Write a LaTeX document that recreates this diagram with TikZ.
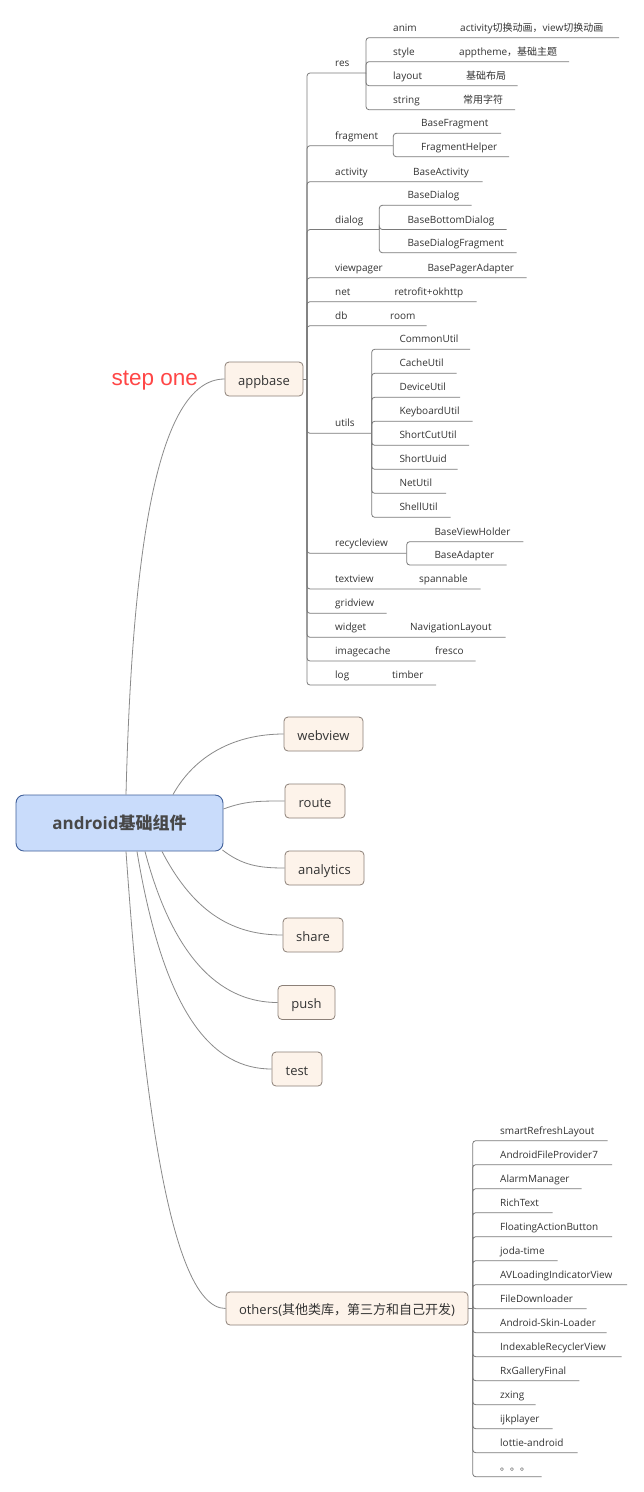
\documentclass[tikz,border=0pt]{standalone}
\usepackage{fontspec}
\setmainfont{Open Sans}
\newfontfamily\cjk{Noto Sans CJK SC}
\newfontfamily\redfont{Liberation Sans}
\definecolor{linegray}{HTML}{7A7A7A}
\definecolor{curvegray}{HTML}{8A8A8A}
\definecolor{txt}{HTML}{333333}
\definecolor{ctxt}{HTML}{484848}
\definecolor{topfill}{HTML}{FDF3EA}
\definecolor{topdraw}{HTML}{8C8078}
\definecolor{cfill}{HTML}{C9DCFB}
\definecolor{cdraw}{HTML}{40609A}
\definecolor{stepred}{HTML}{FF4646}
\begin{document}
\begin{tikzpicture}[x=1pt,y=-1pt,
  tl/.style={draw=linegray, line width=0.8pt},
  rc/.style={rounded corners=3pt},
  cv/.style={draw=curvegray, line width=0.8pt},
  lf/.style={anchor=base west, inner sep=0pt, font=\fontsize{10}{12}\selectfont, text=txt},
  topnode/.style={draw=topdraw, fill=topfill, line width=0.8pt, rounded corners=4pt,
    minimum height=34pt, inner sep=0pt, text=txt, text height=12.5pt, text depth=0pt,
    font=\fontsize{13}{15}\selectfont},
  centernode/.style={draw=cdraw, fill=cfill, line width=0.9pt, rounded corners=8pt,
    minimum width=207pt, minimum height=56pt, inner sep=0pt, text=ctxt,
    font=\fontsize{17}{20}\selectfont\bfseries}
]
\useasboundingbox (0,0) rectangle (643,1492);
\fill[white] (0,0) rectangle (643,1492);

% ---------- main nodes ----------
\node[centernode] (center) at (119.5,823) {android{\cjk\bfseries 基础组件}};
\node[topnode, minimum width=78pt] (appbase) at (264,379) {appbase};
\node[topnode, minimum width=79pt] (webview) at (323.5,734) {webview};
\node[topnode, minimum width=60pt] (route) at (315,801) {route};
\node[topnode, minimum width=79pt] (analytics) at (324.5,868) {analytics};
\node[topnode, minimum width=60pt] (share) at (313,935) {share};
\node[topnode, minimum width=57pt] (push) at (306.5,1002.5) {push};
\node[topnode, minimum width=50pt] (test) at (297,1069) {test};
\node[topnode, minimum width=242pt, minimum height=33pt] (others) at (347,1308.5) {others({\cjk 其他类库，第三方和自己开发})};

\node[anchor=west, inner sep=0pt, text=stepred, font=\redfont\fontsize{22.5}{26}\selectfont] (step) at (111.5,380.5) {step one};

% ---------- curves from center ----------
\draw[cv] ([xshift=6.5pt]center.north) .. controls (132,560) and (155,379) .. (appbase.west);
\draw[cv] ([xshift=53.5pt]center.north) .. controls (195,755) and (235,734) .. (webview.west);
\draw[cv] ([yshift=14pt]center.east) .. controls (245,801) and (258,801) .. (route.west);
\draw[cv] ([xshift=-1pt,yshift=-27pt]center.east) .. controls (242,865) and (258,868) .. (analytics.west);
\draw[cv] ([xshift=42.5pt]center.south) .. controls (195,915) and (235,935) .. (share.west);
\draw[cv] ([xshift=25.5pt]center.south) .. controls (175,965) and (225,1002.5) .. (push.west);
\draw[cv] ([xshift=17.5pt]center.south) .. controls (165,1020) and (215,1069) .. (test.west);
\draw[cv] ([xshift=6.5pt]center.south) .. controls (140,1050) and (165,1308.5) .. (others.west);

% ---------- appbase subtree ----------
\coordinate (T) at (307,379);
\draw[tl] (appbase.east) -- (T);

% res
\node[lf] (res) at (335,66.5) {res};
\coordinate (resB) at (366,73);
\draw[tl,rc] (T) |- (resB);
\node[lf] (anim) at (393,31.2) {anim};
\node[lf] (animv) at (460,31.2) {activity{\cjk 切换动画，}view{\cjk 切换动画}};
\draw[tl,rc] (resB) |- (619,37.7);
\node[lf] (style) at (393,55.2) {style};
\node[lf] (stylev) at (459,55.2) {apptheme{\cjk ，基础主题}};
\draw[tl,rc] (resB) |- (569,61.7);
\node[lf] (layout) at (393,79.2) {layout};
\node[lf] (layoutv) at (466,79.2) {{\cjk 基础布局}};
\draw[tl,rc] (resB) |- (517.7,85.7);
\node[lf] (string) at (393,103.2) {string};
\node[lf] (stringv) at (463,103.2) {{\cjk 常用字符}};
\draw[tl,rc] (resB) |- (515,109.7);

% fragment
\node[lf] (fragment) at (335,139.2) {fragment};
\coordinate (fragB) at (393.3,145.7);
\draw[tl,rc] (T) |- (fragB);
\node[lf] (basefragment) at (421,126.8) {BaseFragment};
\draw[tl,rc] (fragB) |- (501,133.3);
\node[lf] (fraghelper) at (421,150.2) {FragmentHelper};
\draw[tl,rc] (fragB) |- (509,156.7);

% activity
\node[lf] (activity) at (335,175.2) {activity};
\node[lf] (baseactivity) at (413,175.2) {BaseActivity};
\draw[tl,rc] (T) |- (482.7,181.7);

% dialog
\node[lf] (dialog) at (335,223) {dialog};
\coordinate (dlgB) at (379.3,229.5);
\draw[tl,rc] (T) |- (dlgB);
\node[lf] (basedialog) at (407.3,198.8) {BaseDialog};
\draw[tl,rc] (dlgB) |- (471.7,205.3);
\node[lf] (basebottom) at (407.3,223) {BaseBottomDialog};
\draw[tl,rc] (dlgB) |- (506.7,229.5);
\node[lf] (basedlgfrag) at (407.3,246.2) {BaseDialogFragment};
\draw[tl,rc] (dlgB) |- (516.7,252.7);

% viewpager
\node[lf] (viewpager) at (335,271.2) {viewpager};
\node[lf] (basepager) at (427.3,271.2) {BasePagerAdapter};
\draw[tl,rc] (T) |- (526.7,277.7);

% net
\node[lf] (net) at (335,295.2) {net};
\node[lf] (retrofit) at (394.3,295.2) {retrofit+okhttp};
\draw[tl,rc] (T) |- (476.7,301.7);

% db
\node[lf] (db) at (335,319.2) {db};
\node[lf] (room) at (390,319.2) {room};
\draw[tl,rc] (T) |- (426.7,325.7);

% utils
\node[lf] (utils) at (335,426.8) {utils};
\coordinate (utB) at (371.7,433.3);
\draw[tl,rc] (T) |- (utB);
\foreach \lab/\xe [count=\i from 0] in {CommonUtil/470,CacheUtil/456.7,DeviceUtil/460,KeyboardUtil/472.7,ShortCutUtil/469,ShortUuid/457.7,NetUtil/446,ShellUtil/450.7}{
  \node[lf] (u\i) at (399.3,349.3+24*\i-6.5) {\lab};
  \draw[tl,rc] (utB) |- (\xe,349.3+24*\i);
}

% recycleview
\node[lf] (recycleview) at (335,546.5) {recycleview};
\coordinate (rvB) at (406.7,553.3);
\draw[tl,rc] (T) |- (rvB);
\node[lf] (baseviewholder) at (434.3,535.2) {BaseViewHolder};
\draw[tl,rc] (rvB) |- (523.3,541.7);
\node[lf] (baseadapter) at (434.3,558.5) {BaseAdapter};
\draw[tl,rc] (rvB) |- (506.7,565);

% textview
\node[lf] (textview) at (335,582.5) {textview};
\node[lf] (spannable) at (419,582.5) {spannable};
\draw[tl,rc] (T) |- (480.7,589);

% gridview
\node[lf] (gridview) at (335,606.8) {gridview};
\draw[tl,rc] (T) |- (386.7,613.3);

% widget
\node[lf] (widget) at (335,630.8) {widget};
\node[lf] (navlayout) at (410,630.8) {NavigationLayout};
\draw[tl,rc] (T) |- (505.7,637.3);

% imagecache
\node[lf] (imagecache) at (335,654.5) {imagecache};
\node[lf] (fresco) at (435,654.5) {fresco};
\draw[tl,rc] (T) |- (475.7,661);

% log
\node[lf] (log) at (335,678.5) {log};
\node[lf] (timber) at (392,678.5) {timber};
\draw[tl,rc] (T) |- (436,685);

% ---------- others subtree ----------
\coordinate (OB) at (472.7,1308.5);
\draw[tl] (others.east) -- (OB);
\foreach \lab/\xe [count=\i from 0] in {smartRefreshLayout/607.7,AndroidFileProvider7/612,AlarmManager/581.7,RichText/552.7,FloatingActionButton/612,joda-time/557.7,AVLoadingIndicatorView/627,FileDownloader/586.7,Android-Skin-Loader/606.7,IndexableRecyclerView/621.7,RxGalleryFinal/579.3,zxing/535.7,ijkplayer/552.7,lottie-android/577.7}{
  \node[lf] (oc\i) at (500,1140.7+24*\i-6.5) {\lab};
  \draw[tl,rc] (OB) |- (\xe,1140.7+24*\i);
}
\node[lf] (ocdots) at (500,1476.7-6.5) {{\cjk 。。。}};
\draw[tl,rc] (OB) |- (541.7,1476.7);
\end{tikzpicture}
\end{document}
